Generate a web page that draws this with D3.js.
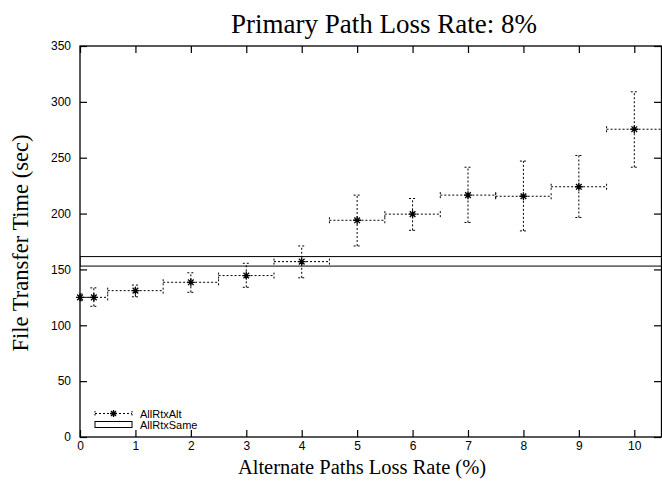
<!DOCTYPE html>
<html>
<head>
<meta charset="utf-8">
<script src="https://cdn.jsdelivr.net/npm/d3@7"></script>
<style>
  html, body { margin: 0; padding: 0; background: #fff; }
  svg { display: block; }
  .tick-label { font-family: "Liberation Sans", Arial, sans-serif; font-size: 12px; fill: #000; }
  .serif { font-family: "Liberation Serif", "Times New Roman", serif; fill: #000; }
</style>
</head>
<body>
<svg id="chart" width="662" height="484"></svg>
<script>
// Alternate-path loss rates (%) and measured transfer times (sec)
const lossRates   = [0, 0.25, 1, 2, 3, 4, 5, 6, 7, 8, 9, 10];
const meanTime    = [125, 125, 131, 138.5, 144.5, 157, 194, 199.5, 216.5, 215.5, 224, 275.5];
const timeLow     = [122, 117, 125.5, 129.5, 134, 142.5, 171, 185, 192, 184.5, 196.5, 241.5];
const timeHigh    = [128, 133.5, 136, 147, 155.5, 171, 216.5, 213.5, 241.5, 247, 252, 309];
const rateLow     = [-0.25, 0, 0.5, 1.5, 2.5, 3.5, 4.5, 5.5, 6.5, 7.5, 8.5, 9.5];
const rateHigh    = [0.25, 0.5, 1.5, 2.5, 3.5, 4.5, 5.5, 6.5, 7.5, 8.5, 9.5, 10.5];

// Band for retransmitting on the same path
const sameLow  = 153;
const sameHigh = 161.5;

const xTicks = [0, 1, 2, 3, 4, 5, 6, 7, 8, 9, 10];
const yTicks = [0, 50, 100, 150, 200, 250, 300, 350];

const titleText  = "Primary Path Loss Rate: 8%";
const xLabelText = "Alternate Paths Loss Rate (%)";
const yLabelText = "File Transfer Time (sec)";
const seriesNames = ["AllRtxAlt", "AllRtxSame"];

const svg = d3.select("#chart");
const plotLeft = 80, plotRight = 662, plotTop = 46, plotBottom = 437;

const x = d3.scaleLinear().domain([0, 10.5]).range([plotLeft, plotRight]);
const y = d3.scaleLinear().domain([0, 350]).range([plotBottom, plotTop]);

svg.append("defs").append("clipPath").attr("id", "plotclip")
  .append("rect").attr("x", plotLeft).attr("y", plotTop)
  .attr("width", plotRight - plotLeft).attr("height", plotBottom - plotTop);

const tickLen = 7;

// Axes (ticks pointing inward on all four sides)
const gx = svg.append("g").attr("transform", `translate(0,${plotBottom})`)
  .call(d3.axisBottom(x).tickValues(xTicks).tickSizeInner(-tickLen).tickSizeOuter(0).tickPadding(4).tickFormat(d3.format("d")));
const gxTop = svg.append("g").attr("transform", `translate(0,${plotTop})`)
  .call(d3.axisTop(x).tickValues(xTicks).tickSizeInner(-tickLen).tickSizeOuter(0).tickFormat(""));
const gy = svg.append("g").attr("transform", `translate(${plotLeft},0)`)
  .call(d3.axisLeft(y).tickValues(yTicks).tickSizeInner(-tickLen).tickSizeOuter(0).tickPadding(9).tickFormat(d3.format("d")));
const gyRight = svg.append("g").attr("transform", `translate(${plotRight - 1},0)`)
  .call(d3.axisRight(y).tickValues(yTicks).tickSizeInner(-tickLen).tickSizeOuter(0).tickFormat(""));

[gx, gxTop, gy, gyRight].forEach(g => {
  g.select(".domain").remove();
  g.selectAll(".tick line").attr("stroke", "#000").attr("stroke-width", 1.2);
  g.selectAll(".tick text").attr("class", "tick-label").attr("font-family", null).attr("font-size", null);
});

// Frame
svg.append("rect")
  .attr("x", plotLeft).attr("y", plotTop)
  .attr("width", plotRight - plotLeft - 0.5).attr("height", plotBottom - plotTop)
  .attr("fill", "none").attr("stroke", "#000").attr("stroke-width", 1.3);

const plot = svg.append("g").attr("clip-path", "url(#plotclip)");

// AllRtxSame band
plot.append("rect")
  .attr("x", x(0)).attr("y", y(sameHigh))
  .attr("width", x(10.5) - x(0) + 5).attr("height", y(sameLow) - y(sameHigh))
  .attr("fill", "none").attr("stroke", "#000").attr("stroke-width", 1);

// AllRtxAlt error bars
const dash = "2,2";
const capH = 3, capW = 3.5;
const pts = lossRates.map((r, i) => ({
  r, m: meanTime[i], lo: timeLow[i], hi: timeHigh[i], rl: rateLow[i], rh: rateHigh[i]
}));

const bars = plot.append("g")
  .attr("stroke", "#000").attr("stroke-width", 1).attr("stroke-dasharray", dash).attr("fill", "none");

pts.forEach(p => {
  const px = x(p.r), py = y(p.m);
  // horizontal bar with end caps
  bars.append("line").attr("x1", x(p.rl)).attr("x2", x(p.rh)).attr("y1", py).attr("y2", py);
  bars.append("line").attr("x1", x(p.rl)).attr("x2", x(p.rl)).attr("y1", py - capH).attr("y2", py + capH);
  bars.append("line").attr("x1", x(p.rh)).attr("x2", x(p.rh)).attr("y1", py - capH).attr("y2", py + capH);
  // vertical bar with end caps
  bars.append("line").attr("x1", px).attr("x2", px).attr("y1", y(p.lo)).attr("y2", y(p.hi));
  bars.append("line").attr("x1", px - capW).attr("x2", px + capW).attr("y1", y(p.lo)).attr("y2", y(p.lo));
  bars.append("line").attr("x1", px - capW).attr("x2", px + capW).attr("y1", y(p.hi)).attr("y2", y(p.hi));
});

// Asterisk markers
function star(g, cx, cy, s) {
  const d = s * 0.7071;
  g.append("path")
    .attr("d", `M${cx - s},${cy}H${cx + s}M${cx},${cy - s}V${cy + s}` +
               `M${cx - d},${cy - d}L${cx + d},${cy + d}M${cx - d},${cy + d}L${cx + d},${cy - d}`)
    .attr("stroke", "#000").attr("stroke-width", 1.3).attr("fill", "none");
}
const markers = svg.append("g");
pts.forEach(p => star(markers, x(p.r), y(p.m), 4));

// Legend
const legend = svg.append("g");
const lx1 = 95, lx2 = 132, ly1 = 413.5;
legend.append("line").attr("x1", lx1).attr("x2", lx2).attr("y1", ly1).attr("y2", ly1)
  .attr("stroke", "#000").attr("stroke-dasharray", dash);
legend.append("line").attr("x1", lx1).attr("x2", lx1).attr("y1", ly1 - 2.5).attr("y2", ly1 + 2.5)
  .attr("stroke", "#000").attr("stroke-dasharray", "1.5,1.5");
legend.append("line").attr("x1", lx2).attr("x2", lx2).attr("y1", ly1 - 2.5).attr("y2", ly1 + 2.5)
  .attr("stroke", "#000").attr("stroke-dasharray", "1.5,1.5");
star(legend, (lx1 + lx2) / 2, ly1, 3.5);
legend.append("text").attr("class", "tick-label").attr("x", 140).attr("y", ly1 + 4)
  .style("font-size", "11px").text(seriesNames[0]);
legend.append("rect").attr("x", lx1).attr("y", 421.5).attr("width", lx2 - lx1).attr("height", 6)
  .attr("fill", "none").attr("stroke", "#000").attr("stroke-width", 1);
legend.append("text").attr("class", "tick-label").attr("x", 140).attr("y", 428.5)
  .style("font-size", "11px").text(seriesNames[1]);

// Titles
svg.append("text").attr("class", "serif").attr("x", 384).attr("y", 33)
  .attr("text-anchor", "middle").style("font-size", "27px").text(titleText);
svg.append("text").attr("class", "serif").attr("x", 362).attr("y", 474)
  .attr("text-anchor", "middle").style("font-size", "20.5px").text(xLabelText);
svg.append("text").attr("class", "serif")
  .attr("transform", "translate(28,243) rotate(-90)")
  .attr("text-anchor", "middle").style("font-size", "22.5px").text(yLabelText);
</script>
</body>
</html>
